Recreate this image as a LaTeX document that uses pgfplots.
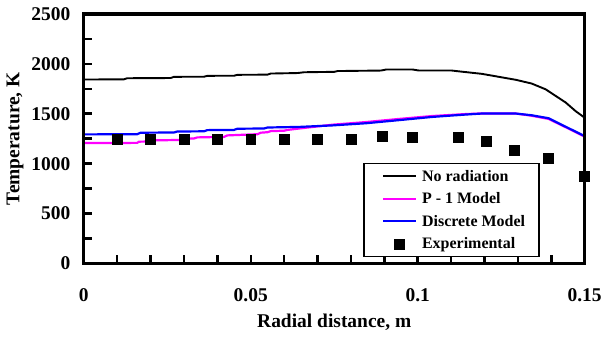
\documentclass[border=0pt]{standalone}
\usepackage{pgfplots}
\pgfplotsset{compat=1.18}
\usepackage{fontspec}
\setmainfont{Liberation Serif}

\definecolor{pone}{RGB}{255,0,255}
\definecolor{dblue}{RGB}{0,0,255}

\pgfplotsset{
  long line legend/.style={
    legend image code/.code={%
      \path (0bp,0bp);
      \draw[##1, line width=2.2bp] (6bp,0bp) -- (39bp,0bp);}},
  square legend/.style={
    legend image code/.code={%
      \path (0bp,0bp) (39bp,0bp);
      \fill[black] (17.5bp,-5bp) rectangle (27.5bp,5bp);}},
}

\begin{document}
\begin{tikzpicture}
\begin{axis}[
  scale only axis,
  width=502bp, height=250bp,
  xmin=0, xmax=0.15, ymin=0, ymax=2500,
  clip=false,
  xtick={0,0.05,0.1,0.15},
  xticklabels={0,0.05,0.1,0.15},
  scaled x ticks=false,
  minor xtick={0.01,0.02,0.03,0.04,0.06,0.07,0.08,0.09,0.11,0.12,0.13,0.14},
  ytick={0,500,1000,1500,2000,2500},
  minor ytick={250,750,1250,1750,2250},
  /pgf/number format/1000 sep={},
  tick align=inside,
  xtick pos=bottom, ytick pos=left,
  major tick length=8bp, minor tick length=8bp,
  tick style={black, line width=2.5bp},
  /pgf/number format/assume math mode=true,
  ticklabel style={font=\fontsize{19.5bp}{21bp}\selectfont\bfseries},
  yticklabel style={xshift=-10bp},
  xticklabel style={yshift=-22bp},
  xlabel={Radial distance, m},
  ylabel={Temperature, K},
  label style={font=\fontsize{19.5bp}{22bp}\selectfont\bfseries},
  xlabel style={at={(axis description cs:0.5,-0.236)}, anchor=center},
  ylabel style={at={(axis description cs:-0.137,0.5)}, anchor=center, rotate=0},
  legend style={
    at={(axis description cs:0.558,0.024)}, anchor=south west,
    draw=black, line width=1.5bp,
    font=\fontsize{16bp}{18bp}\selectfont\bfseries,
    inner xsep=12bp, inner ysep=4.5bp,
    row sep=6bp,
    cells={anchor=west},
    /tikz/every odd column/.append style={column sep=3bp},
  },
  legend cell align=left,
]
% no radiation
\addplot[black, line width=1.9bp, mark=none, long line legend]
  coordinates {
  (0,1843)(0.012,1845)(0.013,1856)(0.026,1858)(0.027,1870)(0.036,1871)
  (0.037,1880)(0.045,1881)(0.046,1890)(0.055,1892)(0.056,1903)(0.064,1908)
  (0.066,1916)(0.075,1920)(0.076,1928)(0.089,1933)(0.0905,1943)(0.0985,1943)
  (0.1004,1933)(0.1102,1933)(0.1123,1925)(0.1192,1900)(0.1294,1840)
  (0.1341,1803)(0.1383,1745)(0.1443,1613)(0.1473,1526)(0.150,1460)
};
\addlegendentry{No radiation}
% P-1 model
\addplot[pone, line width=2.2bp, mark=none, long line legend]
  coordinates {
  (0,1206)(0.016,1208)(0.0165,1220)(0.020,1222)(0.021,1233)(0.030,1238)
  (0.031,1250)(0.033,1252)(0.034,1263)(0.042,1268)(0.043,1283)(0.052,1295)
  (0.053,1310)(0.055,1315)(0.056,1326)(0.060,1330)(0.061,1338)(0.0645,1352)
  (0.0744,1390)(0.0846,1417)(0.0944,1448)(0.1043,1477)(0.1144,1497)
  (0.1192,1503)(0.1294,1502)(0.1341,1480)(0.1392,1448)(0.1443,1365)(0.150,1270)
};
\addlegendentry{P - 1 Model}
% discrete ordinates model
\addplot[dblue, line width=2.2bp, mark=none, long line legend]
  coordinates {
  (0,1293)(0.016,1295)(0.017,1310)(0.027,1312)(0.028,1322)(0.036,1324)
  (0.037,1336)(0.045,1338)(0.046,1350)(0.054,1352)(0.055,1362)(0.0645,1368)
  (0.0744,1383)(0.0846,1405)(0.0944,1436)(0.1043,1468)(0.1144,1492)
  (0.1192,1502)(0.1294,1502)(0.1341,1485)(0.1392,1455)(0.1443,1370)(0.150,1276)
};
\addlegendentry{Discrete Model}
% measurements
\addplot[only marks, mark=square*, mark size=5bp, black, line width=0.5bp, square legend]
  coordinates {
  (0.01,1245)(0.02,1245)(0.03,1245)(0.04,1245)(0.05,1245)(0.06,1245)
  (0.07,1245)(0.08,1245)(0.0893,1273)(0.0983,1260)(0.112,1260)
  (0.1204,1222)(0.129,1135)(0.139,1058)(0.15,878)
};
\addlegendentry{Experimental}
% heavy frame round the plot area
\draw[black, line width=3.2bp, line cap=rect]
  (rel axis cs:0,0) rectangle (rel axis cs:1,1);
% page extent
\path (axis description cs:-0.1673,-0.3) rectangle (axis description cs:1.0378,1.056);
\end{axis}
\end{tikzpicture}
\end{document}
